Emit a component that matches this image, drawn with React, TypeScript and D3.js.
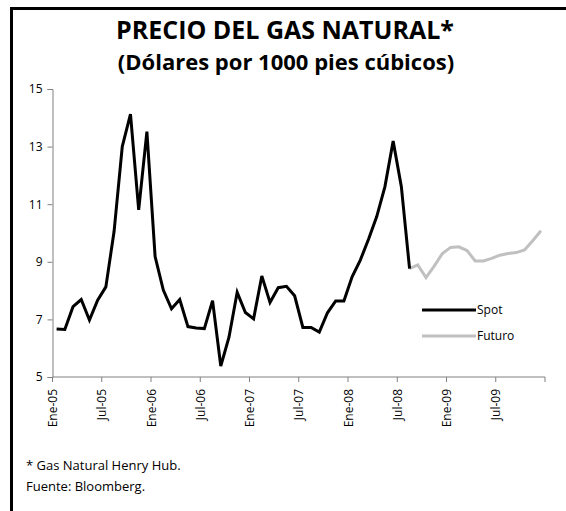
import React, { useRef, useEffect } from 'react';
import * as d3 from 'd3';

// Monthly categories, Ene-05 .. Dic-09
const monthNames = ["Ene", "Feb", "Mar", "Abr", "May", "Jun", "Jul", "Ago", "Sep", "Oct", "Nov", "Dic"];
const years = ["05", "06", "07", "08", "09"];
const months = years.flatMap(y => monthNames.map(m => `${m}-${y}`));

const tickLabels = ["Ene-05", "Jul-05", "Ene-06", "Jul-06", "Ene-07", "Jul-07", "Ene-08", "Jul-08", "Ene-09", "Jul-09"];
const yTicks = [5, 7, 9, 11, 13, 15];

// Spot price, Ene-05 .. Ago-08
const spot = [
  6.67, 6.65, 7.44, 7.69, 6.98, 7.67, 8.13, 10.05, 13.0, 14.13,
  10.8, 13.52, 9.18, 8.02, 7.37, 7.69, 6.75, 6.70, 6.68, 7.65,
  5.38, 6.38, 7.94, 7.24, 7.02, 8.51, 7.59, 8.10, 8.15, 7.82,
  6.72, 6.72, 6.56, 7.23, 7.64, 7.64, 8.48, 9.06, 9.78, 10.57,
  11.61, 13.19, 11.61, 8.76
];

// Futures curve, Ago-08 .. Dic-09
const futuroStart = "Ago-08";
const futuro = [
  8.76, 8.89, 8.45, 8.85, 9.29, 9.50, 9.52, 9.39, 9.03, 9.03,
  9.12, 9.23, 9.29, 9.32, 9.41, 9.73, 10.08
];

const FONT = "'Open Sans', sans-serif";

export default function App() {
  const svgRef = useRef(null);

  useEffect(() => {
    const svg = d3.select(svgRef.current);
    svg.selectAll('*').remove();

    const x = d3.scaleBand().domain(months).range([52.5, 545]).padding(0);
    const y = d3.scaleLinear().domain([5, 15]).range([377, 89]);
    const cx = (m) => x(m) + x.bandwidth() / 2;

    // frame (only top and left edges visible)
    svg.append("path")
      .attr("d", "M11.5,566 V8.5 H566")
      .attr("fill", "none")
      .attr("stroke", "#000")
      .attr("stroke-width", 3);

    // titles
    svg.append("text")
      .attr("x", 285).attr("y", 39)
      .attr("text-anchor", "middle")
      .style("font-family", FONT).style("font-weight", "bold").style("font-size", "25px")
      .text("PRECIO DEL GAS NATURAL*");
    svg.append("text")
      .attr("x", 286).attr("y", 70)
      .attr("text-anchor", "middle")
      .style("font-family", FONT).style("font-weight", "bold").style("font-size", "22px")
      .text("(Dólares por 1000 pies cúbicos)");

    // y axis
    const yAxis = svg.append("g")
      .attr("transform", "translate(52.5,0)")
      .call(d3.axisLeft(y).tickValues(yTicks).tickSize(5).tickPadding(5));
    yAxis.select(".domain").attr("stroke", "#808080");
    yAxis.selectAll(".tick line").attr("stroke", "#808080");
    yAxis.selectAll("text")
      .style("font-family", FONT).style("font-size", "12px").attr("fill", "#000");

    // x axis: ticks on category boundaries every 6 months
    const boundaries = d3.range(0, months.length + 1, 6);
    const xb = (i) => (i < months.length ? x(months[i]) : x.range()[1]);
    const xAxis = svg.append("g");
    xAxis.append("line")
      .attr("x1", 52.5).attr("x2", 545).attr("y1", y(5)).attr("y2", y(5))
      .attr("stroke", "#808080");
    xAxis.selectAll(".tk").data(boundaries).enter().append("line")
      .attr("x1", d => xb(d)).attr("x2", d => xb(d))
      .attr("y1", y(5)).attr("y2", y(5) + 5)
      .attr("stroke", "#808080");
    xAxis.selectAll(".lbl").data(tickLabels).enter().append("text")
      .attr("transform", d => `translate(${x(d) + 4.5},${y(5) + 12}) rotate(-90)`)
      .attr("text-anchor", "end")
      .style("font-family", FONT).style("font-size", "12px")
      .text(d => d);

    const line = d3.line().x(d => cx(d.m)).y(d => y(d.v));

    const spotData = spot.map((v, i) => ({ m: months[i], v }));
    const f0 = months.indexOf(futuroStart);
    const futuroData = futuro.map((v, i) => ({ m: months[f0 + i], v }));

    svg.append("path")
      .datum(futuroData)
      .attr("fill", "none")
      .attr("stroke", "#c0c0c0")
      .attr("stroke-width", 3)
      .attr("d", line);

    svg.append("path")
      .datum(spotData)
      .attr("fill", "none")
      .attr("stroke", "#000")
      .attr("stroke-width", 3)
      .attr("d", line);

    // legend
    const legendData = [
      { color: "#000", text: "Spot", y: 310 },
      { color: "#c0c0c0", text: "Futuro", y: 336 }
    ];
    const legend = svg.selectAll(".legend").data(legendData).enter().append("g");
    legend.append("line")
      .attr("x1", 422).attr("x2", 476)
      .attr("y1", d => d.y).attr("y2", d => d.y)
      .attr("stroke", d => d.color).attr("stroke-width", 3);
    legend.append("text")
      .attr("x", 477).attr("y", d => d.y).attr("dy", "0.35em")
      .style("font-family", FONT).style("font-size", "12px")
      .text(d => d.text);

    // footnotes
    svg.append("text")
      .attr("x", 26).attr("y", 470)
      .style("font-family", FONT).style("font-size", "13px")
      .text("* Gas Natural Henry Hub.");
    svg.append("text")
      .attr("x", 26).attr("y", 491)
      .style("font-family", FONT).style("font-size", "13px")
      .text("Fuente: Bloomberg.");

    return () => {
      d3.select(svgRef.current).selectAll('*').remove();
    };
  }, []);

  return (
    <svg ref={svgRef} width={566} height={511}
      style={{ position: 'absolute', left: 0, top: 0, background: '#fff' }} />
  );
}
